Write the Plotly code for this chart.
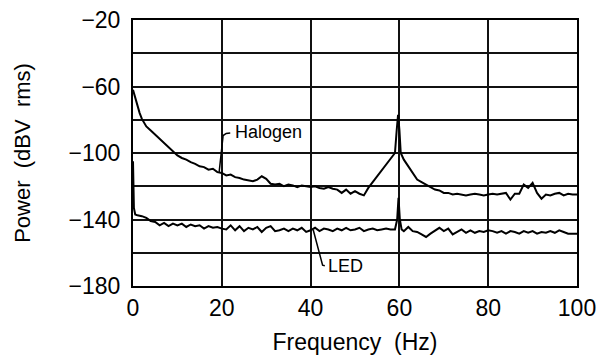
import plotly.graph_objects as go

# ---- data ----
halogen_f = [0, 0.5, 1, 1.5, 2, 3, 4, 5, 6, 7, 8, 9, 10, 11, 12, 13, 14, 15, 16, 17, 18, 19,
             20, 21, 22, 23, 24, 25, 26, 27, 28, 29, 30, 31, 32, 33, 34, 35, 36, 37, 38, 39,
             40, 41, 42, 43, 44, 45, 46, 47, 48, 49, 50, 51, 52, 53, 54, 55, 56, 57, 58, 59,
             59.4, 59.7, 60.0, 60.3, 61, 62, 63, 64, 65, 66, 67, 68, 69, 70, 71, 72, 73, 74,
             75, 76, 77, 78, 79, 80, 81, 82, 83, 84, 85, 86, 87, 88, 89, 90, 91, 92, 93, 94,
             95, 96, 97, 98, 99, 100]
halogen_db = [-62, -67, -72, -76, -79.5, -84, -86.5, -89, -91, -93.5, -96, -99, -101.5, -103,
              -104, -105.5, -106.5, -108, -108.5, -110, -109.5, -111.5,
              -112, -113.5, -113, -114.5, -115, -116, -116.5, -117, -116, -114, -115.5, -118.5,
              -119, -118.5, -120, -119, -119.5, -120.5, -119.5, -120,
              -120.5, -120, -121, -121.5, -120.5, -121.5, -122, -124, -122, -124.5, -123, -124.5,
              -125.5, -121, -117.5, -113.5, -110.5, -107, -103.5, -100,
              -86, -77, -86, -100, -104, -108, -112, -116, -117.5, -119, -120, -122, -122.5, -124,
              -124, -125, -124.5, -125,
              -125.5, -125, -124.5, -125, -125.5, -125, -124.5, -125, -124.5, -124, -128, -124.5,
              -124.5, -119, -121, -118, -124, -127.5, -125, -125.5,
              -124.5, -124, -125.5, -124.5, -125, -125]

led_f = [0, 0.2, 0.5, 1, 2, 3, 4, 5, 6, 7, 8, 9, 10, 11, 12, 13, 14, 15, 16, 17, 18, 19,
         20, 21, 22, 23, 24, 25, 26, 27, 28, 29, 30, 31, 32, 33, 34, 35, 36, 37, 38, 39,
         40, 41, 42, 43, 44, 45, 46, 47, 48, 49, 50, 51, 52, 53, 54, 55, 56, 57, 58, 59,
         59.5, 59.8, 60.1, 60.5, 61, 62, 63, 64, 65, 66, 67, 68, 69, 70, 71, 72, 73, 74,
         75, 76, 77, 78, 79, 80, 81, 82, 83, 84, 85, 86, 87, 88, 89, 90, 91, 92, 93, 94,
         95, 96, 97, 98, 99, 100]
led_db = [-105, -133, -137, -137.5, -138, -139, -141, -141.5, -143.5, -142, -144, -142.5,
          -143.5, -142.5, -144.5, -143, -144, -143.5, -145.5, -144, -145, -144.5,
          -145.5, -146, -143.5, -146.5, -144, -147, -145, -146, -144.5, -147.5, -145, -144,
          -147, -146.5, -145.5, -147, -145.5, -146.5, -145, -147.5,
          -146.5, -145, -147, -145.5, -146, -147, -145.5, -146.5, -145, -146.5, -146, -145,
          -147, -146, -145.5, -146.5, -146, -145.5, -146, -146,
          -140, -127, -140, -146, -147, -144.5, -147, -147.5, -149, -150.5, -148.5, -146.5,
          -145, -147, -145.5, -149, -147.5, -146,
          -148, -146.5, -148, -147, -147.5, -146.5, -147, -148, -147, -148.5, -147, -147.5,
          -148.5, -147, -148, -147, -148.5, -147.5, -148, -147,
          -148, -146.5, -147.5, -148.5, -148.5, -148.5]

x_ticks = [0, 20, 40, 60, 80, 100]
y_ticks = [-180, -160, -140, -120, -100, -80, -60, -40, -20]
y_ticklabels = ["−180", "", "−140", "", "−100", "", "−60", "", "−20"]

# label leader lines (data coordinates)
halogen_label = "Halogen"
halogen_leader_f = [19.4, 20.3, 21.0, 21.9]
halogen_leader_db = [-111.5, -89.5, -88.2, -88.0]
halogen_text_pos = (22.6, -87.6)

led_label = "LED"
led_leader_f = [40.6, 42.4, 42.7, 43.2]
led_leader_db = [-146.3, -165.5, -167.5, -167.8]
led_text_pos = (43.4, -168.0)

FONT = "Liberation Sans, Arial, Helvetica, sans-serif"

fig = go.Figure()
fig.add_trace(go.Scatter(x=halogen_f, y=halogen_db, mode="lines",
                         line=dict(color="black", width=2), showlegend=False))
fig.add_trace(go.Scatter(x=led_f, y=led_db, mode="lines",
                         line=dict(color="black", width=2), showlegend=False))
fig.add_trace(go.Scatter(x=halogen_leader_f, y=halogen_leader_db, mode="lines",
                         line=dict(color="black", width=1.5), showlegend=False))
fig.add_trace(go.Scatter(x=led_leader_f, y=led_leader_db, mode="lines",
                         line=dict(color="black", width=1.5), showlegend=False))

fig.add_annotation(x=halogen_text_pos[0], y=halogen_text_pos[1], text=halogen_label,
                   showarrow=False, xanchor="left", yanchor="middle",
                   font=dict(family=FONT, size=18, color="black"))
fig.add_annotation(x=led_text_pos[0], y=led_text_pos[1], text=led_label,
                   showarrow=False, xanchor="left", yanchor="middle",
                   font=dict(family=FONT, size=18, color="black"))

fig.update_layout(
    width=602, height=362,
    margin=dict(l=133, r=25, t=20, b=76),
    paper_bgcolor="white", plot_bgcolor="white",
    font=dict(family=FONT, color="black"),
    xaxis=dict(range=[0, 100], tickvals=x_ticks, ticktext=[str(v) for v in x_ticks],
               showgrid=True, gridcolor="#111111", gridwidth=1.6,
               showline=True, linecolor="black", linewidth=2, mirror=True,
               zeroline=False, ticks="", ticklabelstandoff=0,
               tickfont=dict(size=23, family=FONT),
               title=dict(text="Frequency  (Hz)", font=dict(size=23, family=FONT), standoff=14),
               automargin=False),
    yaxis=dict(range=[-180, -20], tickvals=y_ticks, ticktext=y_ticklabels,
               showgrid=True, gridcolor="#111111", gridwidth=1.6,
               showline=True, linecolor="black", linewidth=2, mirror=True,
               zeroline=False, ticks="", ticklabelstandoff=6,
               tickfont=dict(size=23, family=FONT),
               title=dict(text="Power  (dBV  rms)", font=dict(size=22, family=FONT), standoff=32),
               automargin=False),
)

fig.write_html("out.html")
